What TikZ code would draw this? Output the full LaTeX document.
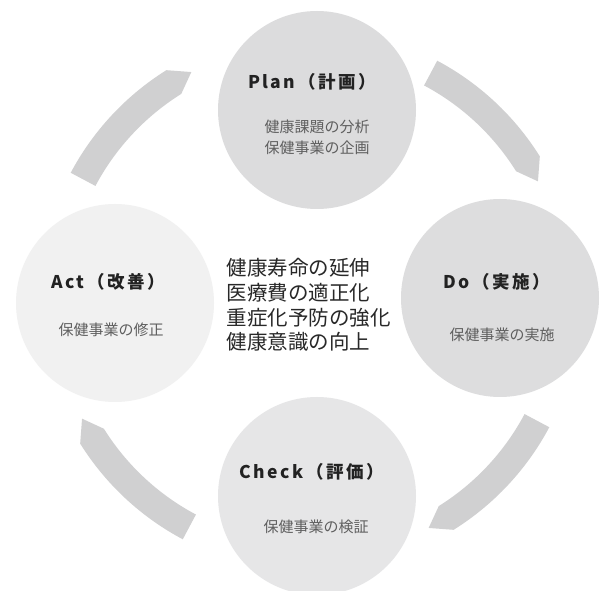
\documentclass[tikz,border=0pt]{standalone}
\usepackage{fontspec}
\setmainfont{Noto Sans CJK JP}
\newfontfamily\latsp[LetterSpace=14]{Noto Sans CJK JP}
\usetikzlibrary{calc}
\definecolor{planc}{RGB}{220,220,221}
\definecolor{actc}{RGB}{241,241,241}
\definecolor{doc}{RGB}{221,221,222}
\definecolor{checkc}{RGB}{230,230,231}
\definecolor{arrowc}{RGB}{208,208,209}
\definecolor{titlec}{RGB}{34,34,34}
\definecolor{subc}{RGB}{95,95,95}
\definecolor{centerc}{RGB}{40,40,40}
\tikzset{
  phase/.style={circle, minimum size=198pt, inner sep=0pt, draw=none},
  ttl/.style={text=titlec, font=\fontsize{17.5}{20}\selectfont\bfseries\latsp},
  sub/.style={text=subc, align=center, font=\fontsize{15}{21}\selectfont},
  goal/.style={text=centerc, align=left, anchor=west, font=\fontsize{20.5}{24.7}\selectfont},
  cyclearrow/.style={fill=arrowc, draw=none}
}
\begin{document}
\begin{tikzpicture}[x=1pt,y=1pt]
\useasboundingbox (0,0) rectangle (603,590);
\fill[white] (0,0) rectangle (603,590);
\coordinate (C) at (310,290);
% circles
\node[phase, fill=planc]  (plan)  at (317,480) {};
\node[phase, fill=actc]   (act)   at (115,287) {};
\node[phase, fill=doc]    (do)    at (500,292) {};
\node[phase, fill=checkc] (check) at (317,94) {};
% arrows
\foreach \m [evaluate=\m as \t using \m+17,
             evaluate=\m as \h using \m-13,
             evaluate=\m as \p using \m-17.5] in {135,45,-45,225} {
  \fill[cyclearrow] ($(C)+(\t:271pt)$) arc[start angle=\t, end angle=\h, radius=271pt]
    -- ($(C)+(\p:257pt)$) -- ($(C)+(\h:243pt)$)
    arc[start angle=\h, end angle=\t, radius=243pt] -- cycle;
}
% texts
\node[ttl] (plant) at (312,508) {P\kern2pt lan\kern3pt（計画）};
\node[sub] (plans) at (317,452.5) {健康課題の分析\\保健事業の企画};
\node[ttl] (actt) at (108,308) {Act\kern3pt（改善）};
\node[sub] (acts) at (111,260) {保健事業の修正};
\node[ttl] (dot) at (497,308) {Do\kern3pt（実施）};
\node[sub] (dos) at (502,255) {保健事業の実施};
\node[ttl] (checkt) at (312,118) {Check\kern3pt（評価）};
\node[sub] (checks) at (316,63) {保健事業の検証};
\node[goal] (goals) at (223,285) {健康寿命の延伸\\医療費の適正化\\重症化予防の強化\\健康意識の向上};
\end{tikzpicture}
\end{document}
